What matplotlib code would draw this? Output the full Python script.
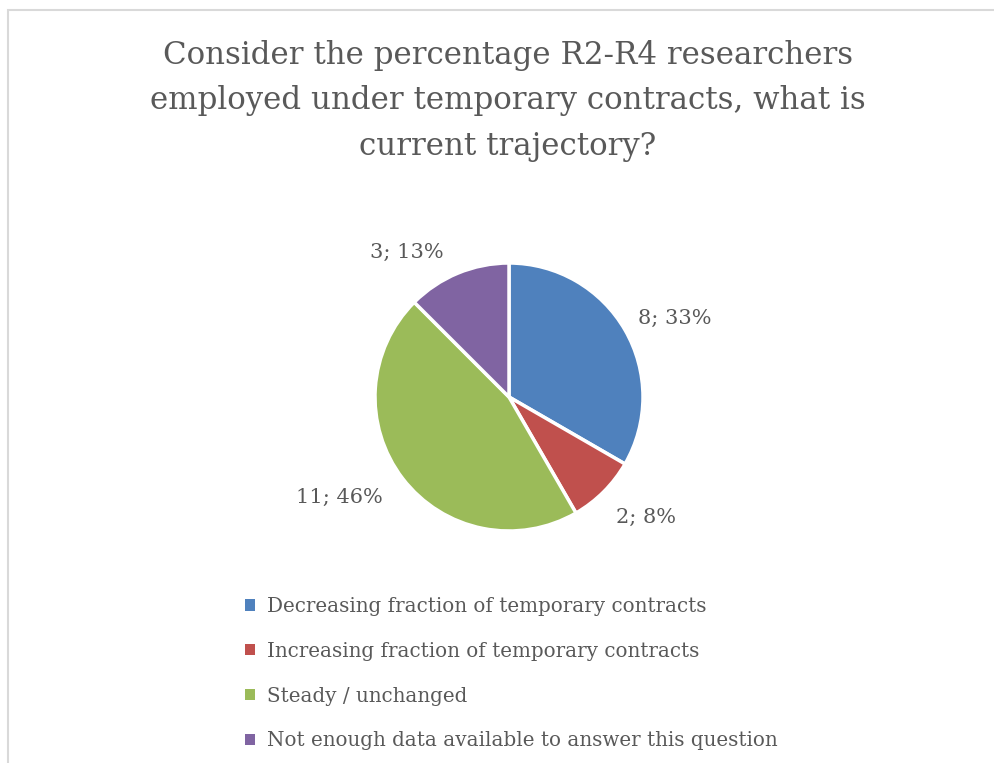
import math
import matplotlib.pyplot as plt
from matplotlib.patches import Patch, Rectangle

categories = [
    "Decreasing fraction of temporary contracts",
    "Increasing fraction of temporary contracts",
    "Steady / unchanged",
    "Not enough data available to answer this question",
]
counts = [8, 2, 11, 3]
colors = ["#4F81BD", "#C0504D", "#9BBB59", "#8064A2"]
title = ("Consider the percentage R2-R4 researchers\n"
         "employed under temporary contracts, what is\n"
         "current trajectory?")

plt.rcParams["font.family"] = ["DejaVu Serif"]
text_color = "#595959"

W, H = 994, 763
fig = plt.figure(figsize=(W / 100, H / 100), dpi=100)

# chart frame, clipped at the right and bottom edges
fig.patches.append(Rectangle((8 / W, -0.1), 2, (H - 10) / H + 0.1,
                             transform=fig.transFigure, fill=False,
                             edgecolor="#d9d9d9", linewidth=1.5))

fig.text(508 / W, 1 - 101 / H, title, ha="center", va="center",
         fontsize=22.2, color=text_color, linespacing=1.6)

cx, cy, r = 509, H - 397, 134
ax = fig.add_axes([(cx - r) / W, (cy - r) / H, 2 * r / W, 2 * r / H])
total = sum(counts)
wedges, _ = ax.pie(counts, colors=colors, startangle=90, counterclock=False,
                   wedgeprops=dict(edgecolor="white", linewidth=2.5))
ax.set_xlim(-1, 1)
ax.set_ylim(-1, 1)

# data labels "count; percent", nudged around each wedge's mid-angle
label_shift = [(-4.6, 1.37), (3.8, 1.36), (-7, 1.47), (12.6, 1.32)]
for w, c, (dang, dist) in zip(wedges, counts, label_shift):
    ang = math.radians((w.theta1 + w.theta2) / 2 + dang)
    pct = math.floor(100 * c / total + 0.5)
    ax.text(dist * math.cos(ang), dist * math.sin(ang), f"{c}; {pct}%",
            ha="center", va="center", fontsize=15, color=text_color)

handles = [Patch(facecolor=c, edgecolor="none") for c in colors]
fig.legend(handles, categories, loc="upper left",
           bbox_to_anchor=(245 / W, 1 - 597 / H), frameon=False,
           fontsize=14.3, labelcolor=text_color, handlelength=0.5,
           handleheight=0.5, handletextpad=0.6, labelspacing=1.3,
           borderpad=0, borderaxespad=0)

fig.savefig("out.png", dpi=100, facecolor="white")
